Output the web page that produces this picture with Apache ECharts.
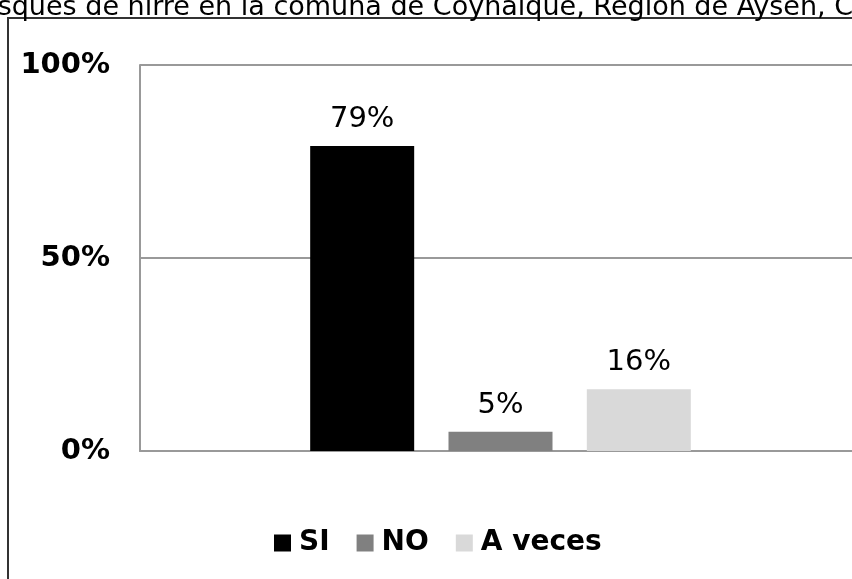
<!DOCTYPE html>
<html>
<head>
<meta charset="utf-8">
<script src="https://cdn.jsdelivr.net/npm/echarts@6/dist/echarts.min.js"></script>
<style>
html,body{margin:0;padding:0;background:#fff;}
#chart{width:852px;height:579px;}
</style>
</head>
<body>
<div id="chart"></div>
<script>
const titleText = 'bosques de ñirre en la comuna de Coyhaique, Región de Aysén, Chile';
const categories = [''];
const seriesNames = ['SI', 'NO', 'A veces'];
const seriesValues = [[79], [5], [16]];
const seriesColors = ['#000000', '#808080', '#d9d9d9'];
const yTicks = [0, 50, 100];

const FONT = 'DejaVu Sans';
const chart = echarts.init(document.getElementById('chart'));

const series = seriesNames.map((name, i) => ({
  name: name,
  type: 'bar',
  data: seriesValues[i],
  barWidth: 104,
  barGap: '33%',
  itemStyle: { color: seriesColors[i] },
  label: {
    show: true,
    position: 'top',
    distance: 12,
    formatter: '{c}%',
    color: '#000',
    fontFamily: FONT,
    fontSize: 29,
    fontWeight: 'normal'
  }
}));

chart.setOption({
  animation: false,
  backgroundColor: '#fff',
  graphic: [
    {
      type: 'rect',
      shape: { x: 8, y: 18, width: 1000, height: 800 },
      style: { fill: 'none', stroke: '#333', lineWidth: 2 },
      z: 0
    },
    {
      type: 'text',
      x: -36,
      y: 21,
      style: {
        text: titleText,
        fontFamily: FONT,
        fontSize: 27,
        fill: '#000',
        verticalAlign: 'bottom'
      },
      z: 10
    }
  ],
  grid: { left: 140, top: 65, width: 721, height: 386, containLabel: false, outerBoundsMode: 'none' },
  legend: {
    data: seriesNames,
    left: 269,
    top: 524,
    icon: 'rect',
    itemWidth: 17,
    itemHeight: 17,
    itemGap: 27,
    textStyle: {
      fontFamily: FONT,
      fontSize: 28,
      fontWeight: 'bold',
      color: '#000',
      padding: [0, 0, 0, 3]
    }
  },
  xAxis: {
    type: 'category',
    data: categories,
    axisLine: { show: true, lineStyle: { color: '#999', width: 2 } },
    axisTick: { show: false },
    axisLabel: { show: false }
  },
  yAxis: {
    type: 'value',
    min: yTicks[0],
    max: yTicks[yTicks.length - 1],
    interval: 50,
    axisLine: { show: true, lineStyle: { color: '#999', width: 2 } },
    axisTick: { show: false },
    splitLine: { show: true, lineStyle: { color: '#999', width: 2 } },
    axisLabel: {
      formatter: '{value}%',
      margin: 30,
      padding: [5, 0, 0, 0],
      color: '#000',
      fontFamily: FONT,
      fontSize: 29,
      fontWeight: 'bold'
    }
  },
  series: series
});
</script>
</body>
</html>
